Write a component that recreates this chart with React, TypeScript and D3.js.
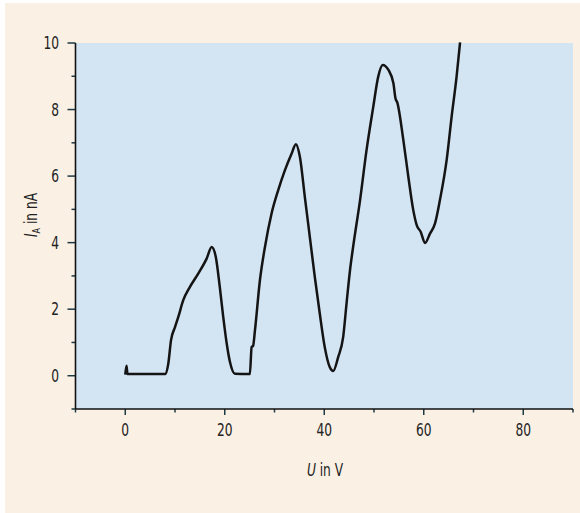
import React, { useEffect, useRef } from 'react';
import * as d3 from 'd3';

// Franck-Hertz curve
const voltage = [0, 0.25, 0.45, 0.6, 8.0, 8.65, 9.2, 10.0, 10.65, 11.66, 13.0, 14.67, 16.36, 17.37, 18.2, 19.0, 19.7, 20.4, 21.05, 22.05, 24.7, 25.05, 25.4, 25.7, 26.07, 27.07, 28.08, 29.4, 30.75, 32.1, 33.45, 34.3, 35.1, 36.1, 37.1, 38.1, 39.1, 40.1, 41.1, 41.8, 42.8, 43.8, 44.5, 45.2, 45.8, 47.2, 48.5, 49.85, 50.85, 51.75, 52.9, 53.9, 54.3, 54.7, 55.9, 56.9, 57.9, 58.6, 59.4, 60.25, 61.25, 62.25, 63.25, 64.6, 65.6, 66.6, 67.3];
const current = [0.03, 0.3, 0.05, 0.05, 0.05, 0.36, 1.07, 1.46, 1.76, 2.27, 2.67, 3.07, 3.52, 3.87, 3.57, 2.67, 1.76, 0.96, 0.41, 0.06, 0.05, 0.05, 0.86, 0.9, 1.36, 2.87, 3.87, 4.87, 5.58, 6.18, 6.68, 6.96, 6.58, 5.37, 4.17, 2.97, 1.87, 0.86, 0.26, 0.14, 0.56, 1.16, 2.2, 3.2, 3.87, 5.28, 6.78, 8.08, 8.99, 9.34, 9.19, 8.79, 8.35, 8.2, 7.08, 5.98, 4.97, 4.52, 4.32, 3.99, 4.27, 4.57, 5.28, 6.48, 7.78, 8.99, 10.02];

const xTicks = [-10, 0, 10, 20, 30, 40, 50, 60, 70, 80, 90];
const xLabels = [0, 20, 40, 60, 80];
const yTicks = [-1, 0, 1, 2, 3, 4, 5, 6, 7, 8, 9, 10];
const yLabels = [0, 2, 4, 6, 8, 10];

const font = '"DejaVu Sans Condensed", "DejaVu Sans", sans-serif';
const squeeze = 0.8; // no condensed face like the original, so narrow it by hand

export default function App() {
  const ref = useRef<SVGSVGElement>(null);

  useEffect(() => {
    const svg = d3.select(ref.current);
    svg.selectAll('*').remove();

    const W = 580, H = 513;
    const margin = { top: 43, right: 7, bottom: 104, left: 75.5 };

    const x = d3.scaleLinear().domain([-10, 90]).range([margin.left, W - margin.right]);
    const y = d3.scaleLinear().domain([-1, 10]).range([H - margin.bottom, margin.top]);

    svg.append('rect').attr('x', 5).attr('y', 3).attr('width', W - 5).attr('height', H - 3).attr('fill', '#faf0e4');

    svg.append('rect')
      .attr('x', x(-10)).attr('y', y(10))
      .attr('width', x(90) - x(-10)).attr('height', y(-1) - y(10))
      .attr('fill', '#d3e4f3');

    const tickColor = '#1d3a44';

    const label = (g, px, py, anchor) =>
      g.append('text')
        .attr('transform', `translate(${px},${py}) scale(${squeeze},1)`)
        .attr('text-anchor', anchor)
        .style('font-family', font).style('font-size', '17px').attr('fill', '#222');

    // x axis
    const gx = svg.append('g');
    gx.selectAll('line.t').data(xTicks).enter().append('line')
      .attr('x1', d => x(d)).attr('x2', d => x(d))
      .attr('y1', y(-1)).attr('y2', d => y(-1) + (d % 20 === 0 ? 6 : 3.5))
      .attr('stroke', tickColor).attr('stroke-width', 1.5);
    gx.append('line')
      .attr('x1', x(-10)).attr('x2', x(90)).attr('y1', y(-1)).attr('y2', y(-1))
      .attr('stroke', '#111').attr('stroke-width', 1.6);
    xLabels.forEach(d => label(gx, x(d), 436, 'middle').text(d));

    // y axis
    const gy = svg.append('g');
    gy.selectAll('line.t').data(yTicks).enter().append('line')
      .attr('x1', x(-10)).attr('x2', d => x(-10) - (d % 2 === 0 ? 8 : 4))
      .attr('y1', d => y(d)).attr('y2', d => y(d))
      .attr('stroke', tickColor).attr('stroke-width', 1.5);
    gy.append('line')
      .attr('x1', x(-10)).attr('x2', x(-10)).attr('y1', y(-1)).attr('y2', y(10))
      .attr('stroke', '#111').attr('stroke-width', 1.6);
    yLabels.forEach(d => label(gy, 59, y(d) + 6, 'end').text(d));

    // the curve
    const pts = voltage.map((v, i) => [v, current[i]] as [number, number]);
    const line = d3.line<[number, number]>()
      .x(d => x(d[0]))
      .y(d => y(d[1]))
      .curve(d3.curveMonotoneX);
    svg.append('path')
      .attr('d', line(pts))
      .attr('fill', 'none')
      .attr('stroke', '#141414')
      .attr('stroke-width', 2.5)
      .attr('stroke-linejoin', 'round');

    // axis titles
    const xt = label(svg, 325, 476, 'middle');
    xt.append('tspan').style('font-style', 'italic').text('U');
    xt.append('tspan').text(' in V');

    const yt = svg.append('text')
      .attr('transform', `translate(37,215) rotate(-90) scale(${squeeze},1)`)
      .attr('text-anchor', 'middle')
      .style('font-family', font).style('font-size', '17px').attr('fill', '#222');
    yt.append('tspan').style('font-style', 'italic').text('I');
    yt.append('tspan').style('font-size', '11px').attr('dy', 3).text('A');
    yt.append('tspan').attr('dy', -3).text(' in nA');
  }, []);

  return (
    <div style={{ position: 'absolute', left: 0, top: 0 }}>
      <svg ref={ref} width={580} height={513} style={{ display: 'block' }}></svg>
    </div>
  );
}
